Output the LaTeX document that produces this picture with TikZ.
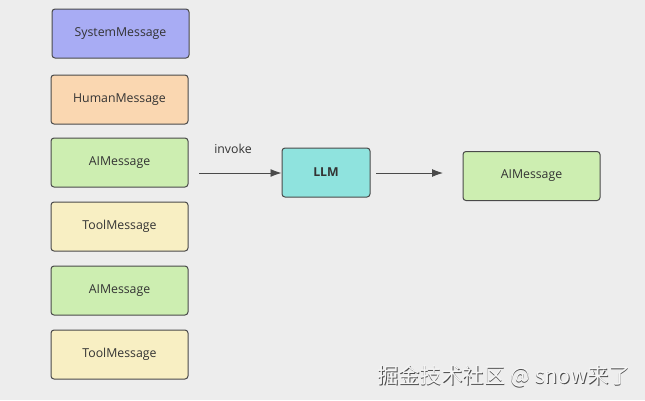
\documentclass[tikz,border=0pt]{standalone}
\usepackage{fontspec}
\setmainfont{Open Sans}
\newfontfamily\cjk{Noto Sans CJK SC}
\definecolor{bg}{HTML}{EDEDED}
\definecolor{sysc}{HTML}{A8ACF4}
\definecolor{humc}{HTML}{FAD7B1}
\definecolor{aic}{HTML}{CDEEB1}
\definecolor{toolc}{HTML}{F8EFC3}
\definecolor{llmc}{HTML}{8FE3DE}
\definecolor{edge}{HTML}{4A4A4A}
\definecolor{txt}{HTML}{333333}
\usetikzlibrary{arrows.meta}
\tikzset{
  msg/.style={draw=edge, line width=1pt, rounded corners=3pt, minimum width=137pt, minimum height=49pt, font=\fontsize{12.3}{14}\selectfont, text=txt},
  arr/.style={draw=edge, line width=0.9pt, -{Latex[length=11pt,width=8pt]}}
}
\begin{document}
\begin{tikzpicture}[x=1pt,y=-1pt]
\fill[bg] (0,0) rectangle (645,400);
\useasboundingbox (0,0) rectangle (645,400);
\node[msg, fill=sysc] (sys) at (120.5,33.5) {SystemMessage};
\node[msg, fill=humc] (hum) at (119.5,99.5) {HumanMessage};
\node[msg, fill=aic] (ai1) at (119.5,162.5) {AIMessage};
\node[msg, fill=toolc] (tool1) at (119.5,226.5) {ToolMessage};
\node[msg, fill=aic] (ai2) at (119.5,290.5) {AIMessage};
\node[msg, fill=toolc] (tool2) at (119.5,354.5) {ToolMessage};
\node[msg, fill=llmc, minimum width=88pt, font=\fontsize{12.3}{14}\selectfont\bfseries] (llm) at (326,172.5) {LLM};
\node[msg, fill=aic] (ai3) at (531.5,176) {AIMessage};
\coordinate (s1) at (199,173);
\draw[arr] (s1) -- (llm.west |- s1);
\node[font=\fontsize{12.3}{14}\selectfont, text=txt] (inv) at (233,149) {invoke};
\coordinate (s2) at (376,173);
\coordinate (e2) at (443,173);
\draw[arr] (s2) -- (e2);
\node[font=\cjk\fontsize{21.3}{25}\selectfont, text=gray!60!black, anchor=east] (wm0) at (634.8,376.8) {掘金技术社区 @ snow来了};
\node[font=\cjk\fontsize{21.3}{25}\selectfont, text=white!96!black, anchor=east] (wm) at (634,376) {掘金技术社区 @ snow来了};
\end{tikzpicture}
\end{document}
